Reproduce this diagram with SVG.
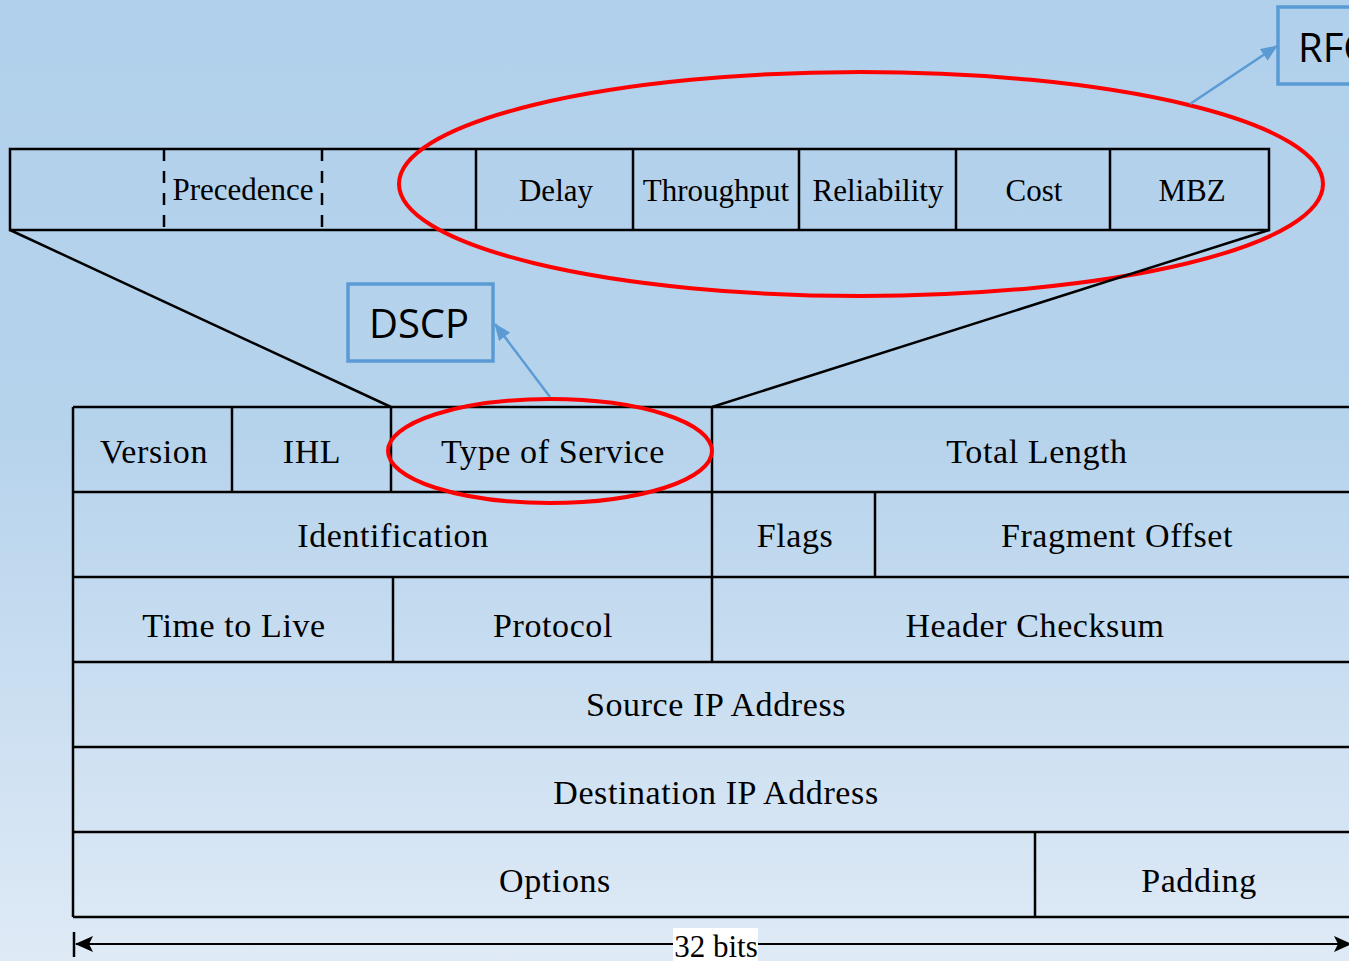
<svg xmlns="http://www.w3.org/2000/svg" width="1349" height="961" viewBox="0 0 1349 961">
  <defs>
    <linearGradient id="bg" x1="0" y1="0" x2="0" y2="1">
      <stop offset="0" stop-color="#b1d0eb"/>
      <stop offset="0.45" stop-color="#b6d3ec"/>
      <stop offset="1" stop-color="#dfeaf6"/>
    </linearGradient>
    <marker id="blueHead" viewBox="0 0 17 14" refX="16" refY="7" markerWidth="17" markerHeight="14" orient="auto" markerUnits="userSpaceOnUse">
      <path d="M0,0 L17,7 L0,14 Z" fill="#5b9bd5"/>
    </marker>
    <marker id="blackHead" viewBox="0 0 18 16" refX="17" refY="8" markerWidth="18" markerHeight="16" orient="auto" markerUnits="userSpaceOnUse">
      <path d="M0,0 L18,8 L0,16 L4,8 Z" fill="#000"/>
    </marker>
    <marker id="blackHeadStart" viewBox="0 0 18 16" refX="1" refY="8" markerWidth="18" markerHeight="16" orient="auto" markerUnits="userSpaceOnUse">
      <path d="M18,0 L0,8 L18,16 L14,8 Z" fill="#000"/>
    </marker>
  </defs>
  <style>
    .cell { fill: none; stroke: #000; stroke-width: 2.5; }
    .div { stroke: #000; stroke-width: 2.5; }
    .dash { stroke: #000; stroke-width: 2.5; stroke-dasharray: 12 10; }
    .f { font-family: "Liberation Serif", "Times New Roman", serif; font-size: 34px; letter-spacing: 0.6px; fill: #000; text-anchor: middle; }
    .t { font-family: "Liberation Serif", "Times New Roman", serif; font-size: 31px; fill: #000; text-anchor: middle; }
    .callout { fill: none; stroke: #5b9bd5; stroke-width: 3.5; }
    .callout-text { font-family: "Open Sans", "Noto Sans", sans-serif; font-size: 40px; fill: #000; }
    .ring { fill: none; stroke: #ff0000; stroke-width: 4; }
    .link { stroke: #5b9bd5; stroke-width: 2.5; fill: none; }
  </style>

  <rect x="0" y="0" width="1349" height="961" fill="url(#bg)"/>

  <!-- Type of Service breakdown bar -->
  <g id="tos-bar">
    <rect class="cell" x="10" y="149" width="1259" height="81"/>
    <line class="dash" x1="164" y1="149" x2="164" y2="230"/>
    <line class="dash" x1="322" y1="149" x2="322" y2="230"/>
    <line class="div" x1="476" y1="149" x2="476" y2="230"/>
    <line class="div" x1="633" y1="149" x2="633" y2="230"/>
    <line class="div" x1="799" y1="149" x2="799" y2="230"/>
    <line class="div" x1="956" y1="149" x2="956" y2="230"/>
    <line class="div" x1="1110" y1="149" x2="1110" y2="230"/>
    <text class="t" x="243" y="200">Precedence</text>
    <text class="t" x="556" y="201">Delay</text>
    <text class="t" x="716" y="201">Throughput</text>
    <text class="t" x="878" y="201">Reliability</text>
    <text class="t" x="1034" y="201">Cost</text>
    <text class="t" x="1192" y="201">MBZ</text>
  </g>

  <!-- IPv4 header -->
  <g id="row-1">
    <line class="div" x1="73" y1="407" x2="1349" y2="407"/>
    <line class="div" x1="73" y1="407" x2="73" y2="917"/>
    <line class="div" x1="232" y1="407" x2="232" y2="492"/>
    <line class="div" x1="391" y1="407" x2="391" y2="492"/>
    <line class="div" x1="712" y1="407" x2="712" y2="662"/>
    <text class="f" x="154" y="463">Version</text>
    <text class="f" x="312" y="463">IHL</text>
    <text class="f" x="553" y="463">Type of Service</text>
    <text class="f" x="1037" y="463">Total Length</text>
  </g>
  <g id="row-2">
    <line class="div" x1="73" y1="492" x2="1349" y2="492"/>
    <line class="div" x1="875" y1="492" x2="875" y2="577"/>
    <text class="f" x="393" y="547">Identification</text>
    <text class="f" x="795" y="547">Flags</text>
    <text class="f" x="1117" y="547">Fragment Offset</text>
  </g>
  <g id="row-3">
    <line class="div" x1="73" y1="577" x2="1349" y2="577"/>
    <line class="div" x1="393" y1="577" x2="393" y2="662"/>
    <text class="f" x="234" y="637">Time to Live</text>
    <text class="f" x="553" y="637">Protocol</text>
    <text class="f" x="1035" y="637">Header Checksum</text>
  </g>
  <g id="row-4">
    <line class="div" x1="73" y1="662" x2="1349" y2="662"/>
    <text class="f" x="716" y="716">Source IP Address</text>
  </g>
  <g id="row-5">
    <line class="div" x1="73" y1="747" x2="1349" y2="747"/>
    <text class="f" x="716" y="804">Destination IP Address</text>
  </g>
  <g id="row-6">
    <line class="div" x1="73" y1="832" x2="1349" y2="832"/>
    <line class="div" x1="1035" y1="832" x2="1035" y2="917"/>
    <line class="div" x1="73" y1="917" x2="1349" y2="917"/>
    <text class="f" x="555" y="892">Options</text>
    <text class="f" x="1199" y="892">Padding</text>
  </g>

  <!-- Callout boxes -->
  <g id="dscp">
    <rect class="callout" x="348" y="284" width="145" height="77"/>
    <text class="callout-text" x="419" y="338" text-anchor="middle">DSCP</text>
  </g>
  <g id="rfc">
    <rect class="callout" x="1278" y="7" width="100" height="77"/>
    <text class="callout-text" x="1298" y="62">RFC</text>
  </g>

  <!-- Highlight rings -->
  <g id="rings">
    <ellipse class="ring" cx="861" cy="184" rx="462" ry="112"/>
    <ellipse class="ring" cx="550" cy="451" rx="162" ry="52"/>
  </g>

  <!-- Connectors -->
  <g id="connectors">
    <line class="div" x1="10" y1="230" x2="391" y2="407"/>
    <line class="div" x1="1269" y1="230" x2="712" y2="407"/>
    <line class="link" x1="550" y1="397" x2="495" y2="324" marker-end="url(#blueHead)"/>
    <line class="link" x1="1190" y1="104" x2="1277" y2="46" marker-end="url(#blueHead)"/>
    <line stroke="#000" stroke-width="2.5" x1="74" y1="932" x2="74" y2="957"/>
    <line stroke="#000" stroke-width="2" x1="76" y1="944" x2="1351" y2="944" marker-start="url(#blackHeadStart)" marker-end="url(#blackHead)"/>
    <rect x="673" y="928" width="85" height="33" fill="#ffffff"/>
    <text class="t" x="716" y="957">32 bits</text>
  </g>
</svg>
